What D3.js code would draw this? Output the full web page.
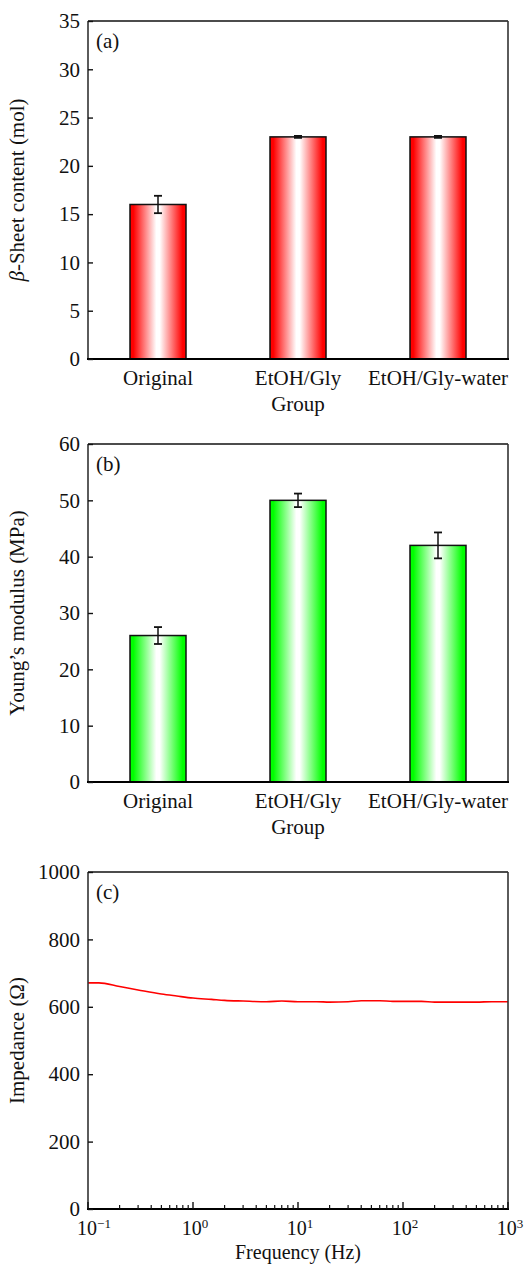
<!DOCTYPE html>
<html>
<head>
<meta charset="utf-8">
<script src="https://cdn.jsdelivr.net/npm/d3@7"></script>
<style>
  html, body { margin: 0; padding: 0; background: #fff; }
  svg { display: block; }
  text { font-family: "Liberation Serif", "Times New Roman", serif; fill: #111; }
</style>
</head>
<body>
<svg id="chart" width="524" height="1264"></svg>
<script>
// ---------- data ----------
const categories = ["Original", "EtOH/Gly", "EtOH/Gly-water"];
const betaSheet = [16, 23, 23];
const betaSheetErr = [0.9, 0.1, 0.1];
const youngModulus = [26, 50, 42];
const youngModulusErr = [1.5, 1.2, 2.3];
const betaTicks = [0, 5, 10, 15, 20, 25, 30, 35];
const youngTicks = [0, 10, 20, 30, 40, 50, 60];
const freq = [0.1, 0.127, 0.2, 0.3, 0.5, 0.7, 1, 1.5, 2, 3, 5, 7, 10, 15, 20, 30, 40, 60, 80, 100, 150, 200, 300, 500, 700, 1000];
const impedance = [671, 671, 660, 650, 638, 632, 626, 622, 619, 617, 615, 617, 615, 615, 614, 615, 618, 618, 616, 616, 616, 614, 614, 614, 615, 615];
const impTicks = [0, 200, 400, 600, 800, 1000];
const freqExp = [-1, 0, 1, 2, 3];

const svg = d3.select("#chart");
const defs = svg.append("defs");
function grad(id, color) {
  const g = defs.append("linearGradient").attr("id", id)
    .attr("x1", "0%").attr("x2", "100%").attr("y1", "0%").attr("y2", "0%");
  [[0, color], [0.06, color], [0.47, "#ffffff"], [0.53, "#ffffff"], [0.94, color], [1, color]]
    .forEach(([o, c]) => g.append("stop").attr("offset", o).attr("stop-color", c));
}
grad("gRed", "#ff0000");
grad("gGreen", "#00ff00");

const L = 88, R = 508;
const FS = 21;
const FONT = "Liberation Serif, Times New Roman, serif";

function frame(g, top, bottom) {
  g.append("line").attr("x1", L).attr("x2", R).attr("y1", top).attr("y2", top)
    .attr("stroke", "#111").attr("stroke-width", 1.6);
  g.append("line").attr("x1", R).attr("x2", R).attr("y1", top).attr("y2", bottom)
    .attr("stroke", "#333").attr("stroke-width", 1.6);
  g.append("line").attr("x1", L).attr("x2", L).attr("y1", top).attr("y2", bottom)
    .attr("stroke", "#333").attr("stroke-width", 1.6);
  g.append("line").attr("x1", L - 1).attr("x2", R + 1).attr("y1", bottom).attr("y2", bottom)
    .attr("stroke", "#000").attr("stroke-width", 2.2);
}

function yAxis(g, y, ticks) {
  const ax = g.append("g").attr("transform", `translate(${L},0)`)
    .call(d3.axisLeft(y).tickValues(ticks).tickFormat(d3.format("d"))
      .tickSizeInner(-5).tickSizeOuter(0).tickPadding(8));
  ax.attr("font-family", FONT);
  ax.select(".domain").remove();
  ax.selectAll(".tick line").attr("stroke", "#111").attr("stroke-width", 1.4);
  ax.selectAll(".tick text").attr("font-size", FS).attr("fill", "#111").attr("font-family", FONT);
  return ax;
}

function barPanel(top, bottom, values, errs, ticks, ymax, fillId, label, ylab, italicPrefix) {
  const g = svg.append("g");
  const x = d3.scaleBand().domain(categories).range([L, R]).paddingInner(0.6).paddingOuter(0.3);
  const y = d3.scaleLinear().domain([0, ymax]).range([bottom, top]);

  g.selectAll("rect.bar").data(values).join("rect").attr("class", "bar")
    .attr("x", (d, i) => x(categories[i]))
    .attr("width", x.bandwidth())
    .attr("y", d => y(d))
    .attr("height", d => y(0) - y(d))
    .attr("fill", `url(#${fillId})`)
    .attr("stroke", "#111").attr("stroke-width", 1.5);

  const eb = g.selectAll("g.err").data(values).join("g").attr("class", "err");
  eb.append("line")
    .attr("x1", (d, i) => x(categories[i]) + x.bandwidth() / 2)
    .attr("x2", (d, i) => x(categories[i]) + x.bandwidth() / 2)
    .attr("y1", (d, i) => y(d + errs[i])).attr("y2", (d, i) => y(d - errs[i]))
    .attr("stroke", "#111").attr("stroke-width", 1.5);
  [1, -1].forEach(s => {
    eb.append("line")
      .attr("x1", (d, i) => x(categories[i]) + x.bandwidth() / 2 - 4)
      .attr("x2", (d, i) => x(categories[i]) + x.bandwidth() / 2 + 4)
      .attr("y1", (d, i) => y(d + s * errs[i])).attr("y2", (d, i) => y(d + s * errs[i]))
      .attr("stroke", "#111").attr("stroke-width", 1.8);
  });

  frame(g, top, bottom);
  yAxis(g, y, ticks);

  const xa = g.append("g").attr("transform", `translate(0,${bottom})`)
    .call(d3.axisBottom(x).tickSize(0).tickPadding(11));
  xa.attr("font-family", FONT);
  xa.select(".domain").remove();
  xa.selectAll(".tick text").attr("font-size", FS).attr("fill", "#111").attr("font-family", FONT);

  g.append("text").attr("x", (L + R) / 2).attr("y", bottom + 52)
    .attr("text-anchor", "middle").attr("font-size", FS).text("Group");

  g.append("text").attr("x", 96).attr("y", top + 27).attr("font-size", FS).text(label);

  const yl = g.append("text")
    .attr("transform", `translate(24,${(top + bottom) / 2}) rotate(-90)`)
    .attr("text-anchor", "middle").attr("font-size", FS);
  if (italicPrefix) yl.append("tspan").attr("font-style", "italic").text(italicPrefix);
  yl.append("tspan").text(ylab);
}

barPanel(21, 359, betaSheet, betaSheetErr, betaTicks, 35, "gRed", "(a)", "-Sheet content (mol)", "β");
barPanel(444, 782, youngModulus, youngModulusErr, youngTicks, 60, "gGreen", "(b)", "Young’s modulus (MPa)", null);

// ---------- panel (c) ----------
(function () {
  const top = 872, bottom = 1209;
  const g = svg.append("g");
  const x = d3.scaleLog().domain([0.1, 1000]).range([L, R]);
  const y = d3.scaleLinear().domain([0, 1000]).range([bottom, top]);

  const line = d3.line().x((d, i) => x(freq[i])).y(d => y(d)).curve(d3.curveMonotoneX);
  g.append("path").datum(impedance).attr("d", line)
    .attr("fill", "none").attr("stroke", "#ff0000").attr("stroke-width", 1.6);

  frame(g, top, bottom);
  yAxis(g, y, impTicks);

  // minor & major ticks on x
  const minor = [];
  for (let e = -1; e < 3; e++) for (let m = 2; m <= 9; m++) minor.push(m * Math.pow(10, e));
  g.selectAll("line.minor").data(minor).join("line").attr("class", "minor")
    .attr("x1", d => x(d)).attr("x2", d => x(d))
    .attr("y1", bottom).attr("y2", bottom - 4)
    .attr("stroke", "#111").attr("stroke-width", 1.2);
  g.selectAll("line.major").data(freqExp).join("line").attr("class", "major")
    .attr("x1", d => x(Math.pow(10, d))).attr("x2", d => x(Math.pow(10, d)))
    .attr("y1", bottom).attr("y2", bottom - 7)
    .attr("stroke", "#111").attr("stroke-width", 1.4);

  const tl = g.selectAll("text.xt").data(freqExp).join("text").attr("class", "xt")
    .attr("x", d => x(Math.pow(10, d)) + (d < 0 ? 6 : 2))
    .attr("y", bottom + 26)
    .attr("text-anchor", "middle").attr("font-size", 20);
  tl.append("tspan").text("10");
  tl.append("tspan").attr("dy", -7).attr("font-size", 13)
    .text(d => d < 0 ? "−" + Math.abs(d) : String(d));

  g.append("text").attr("x", (L + R) / 2).attr("y", bottom + 50)
    .attr("text-anchor", "middle").attr("font-size", 20).text("Frequency (Hz)");

  g.append("text").attr("x", 96).attr("y", top + 27).attr("font-size", FS).text("(c)");

  g.append("text")
    .attr("transform", `translate(24,${(top + bottom) / 2}) rotate(-90)`)
    .attr("text-anchor", "middle").attr("font-size", FS).text("Impedance (Ω)");
})();
</script>
</body>
</html>
